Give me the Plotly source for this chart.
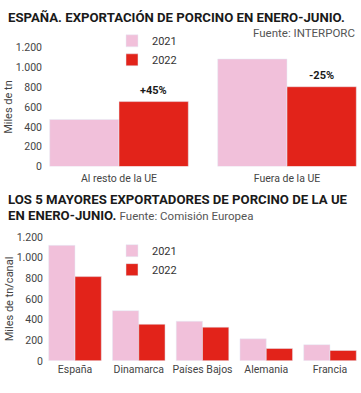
import plotly.graph_objects as go

# ---- data ----
top_categories = ["Al resto de la UE", "Fuera de la UE"]
top_2021 = [475, 1085]
top_2022 = [655, 805]
top_changes = ["+45%", "-25%"]

bottom_categories = ["España", "Dinamarca", "Países Bajos", "Alemania", "Francia"]
bottom_2021 = [1120, 487, 384, 214, 157]
bottom_2022 = [817, 355, 327, 120, 101]

y_ticks = [0, 200, 400, 600, 800, 1000, 1200]

PINK = "#F1C0DA"
RED = "#E2231A"
FONT = "Roboto, sans-serif"
W, H = 361, 393

def px_x(p):
    return p / W

def px_y(p):
    return 1 - p / H

fig = go.Figure()

fig.add_trace(go.Bar(x=top_categories, y=top_2021, name="2021", marker_color=PINK,
                     xaxis="x", yaxis="y", legend="legend"))
fig.add_trace(go.Bar(x=top_categories, y=top_2022, name="2022", marker_color=RED,
                     xaxis="x", yaxis="y", legend="legend"))
fig.add_trace(go.Bar(x=bottom_categories, y=bottom_2021, name="2021", marker_color=PINK,
                     xaxis="x2", yaxis="y2", legend="legend2"))
fig.add_trace(go.Bar(x=bottom_categories, y=bottom_2022, name="2022", marker_color=RED,
                     xaxis="x2", yaxis="y2", legend="legend2"))

tick_font = dict(family=FONT, size=10.5, color="#444444")
axis_common = dict(showgrid=False, zeroline=False, showline=False, ticks="",
                   tickfont=tick_font)

fig.update_layout(
    width=W, height=H,
    margin=dict(l=0, r=0, t=0, b=0),
    paper_bgcolor="white", plot_bgcolor="white",
    separators=",.",
    barmode="group", bargap=0.175, bargroupgap=0,
    font=dict(family=FONT, size=11, color="#333333"),
    xaxis=dict(domain=[px_x(45), px_x(358)], range=[-0.4405, 1.4226],
               anchor="y", ticklabelstandoff=4, **axis_common),
    yaxis=dict(domain=[px_y(166), px_y(43)], range=[0, 1200], anchor="x",
               tickvals=y_ticks, tickformat=",d", ticklabelstandoff=2,
               title=dict(text="Miles de tn", font=dict(family=FONT, size=11, color="#444444"),
                          standoff=0),
               **axis_common),
    xaxis2=dict(domain=[px_x(45), px_x(358)], range=[-0.4706, 4.439],
                anchor="y2", ticklabelstandoff=1, **axis_common),
    yaxis2=dict(domain=[px_y(367), px_y(239)], range=[0, 1200], anchor="x2",
                tickvals=y_ticks, tickformat=",d", ticklabelstandoff=1,
                title=dict(text="Miles de tn/canal", font=dict(family=FONT, size=11, color="#444444"),
                           standoff=0),
                **axis_common),
    legend=dict(x=px_x(112), y=px_y(21), xanchor="left", yanchor="top",
                bgcolor="rgba(0,0,0,0)", font=dict(family=FONT, size=11, color="#333333"),
                tracegroupgap=0, itemwidth=30),
    legend2=dict(x=px_x(112), y=px_y(238), xanchor="left", yanchor="top",
                 bgcolor="rgba(0,0,0,0)", font=dict(family=FONT, size=11, color="#333333"),
                 tracegroupgap=0, itemwidth=30),
)

annotations = [
    dict(text="<b>ESPAÑA. EXPORTACIÓN DE PORCINO EN ENERO-JUNIO.</b>",
         xref="paper", yref="paper", x=px_x(6), y=px_y(12), xanchor="left", yanchor="middle",
         showarrow=False, font=dict(family=FONT, size=13.2, color="#1a1a1a")),
    dict(text="Fuente: INTERPORC",
         xref="paper", yref="paper", x=px_x(357), y=px_y(28), xanchor="right", yanchor="middle",
         showarrow=False, font=dict(family=FONT, size=11.5, color="#555555")),
    dict(text="<b>LOS 5 MAYORES EXPORTADORES DE PORCINO DE LA UE</b>",
         xref="paper", yref="paper", x=px_x(6), y=px_y(200), xanchor="left", yanchor="middle",
         showarrow=False, font=dict(family=FONT, size=13.2, color="#1a1a1a")),
    dict(text="<b>EN ENERO-JUNIO.</b> <span style='font-size:11.5px;color:#555555'>Fuente: Comisión Europea</span>",
         xref="paper", yref="paper", x=px_x(6), y=px_y(217), xanchor="left", yanchor="middle",
         showarrow=False, font=dict(family=FONT, size=13.2, color="#1a1a1a")),
]
for i, (cat, val, txt) in enumerate(zip(top_categories, top_2022, top_changes)):
    annotations.append(dict(text=f"<b>{txt}</b>", xref="x", yref="y", x=cat, y=val,
                            xshift=34, yshift=3, xanchor="center", yanchor="bottom",
                            showarrow=False, font=dict(family=FONT, size=11, color="#1a1a1a")))
fig.update_layout(annotations=annotations)

fig.write_html("out.html", post_script="document.body.style.margin='0';",
               config={"displayModeBar": False})
